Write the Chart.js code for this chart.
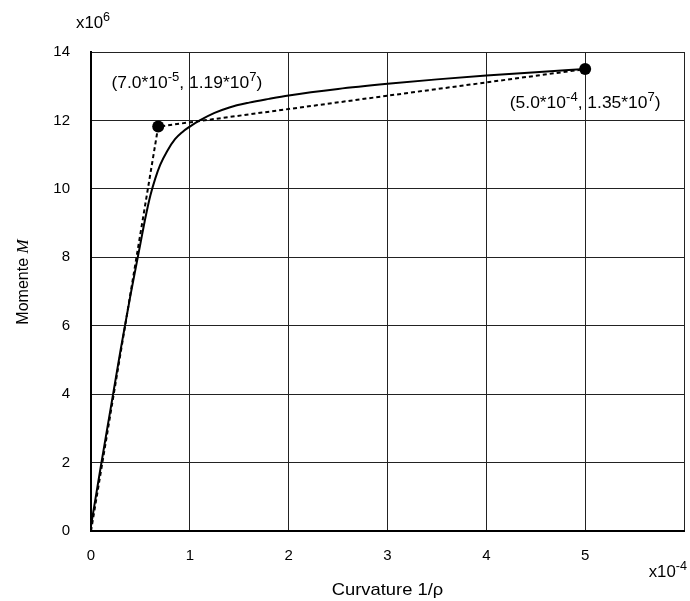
<!DOCTYPE html>
<html lang="en">
<head>
    <meta charset="UTF-8">
    <title>Moment - Curvature</title>
    <style>
        body { margin: 0; background: #fff; }
        #wrap { position: relative; width: 690px; height: 601px; }
    </style>
</head>
<body>
    <div id="wrap"><canvas id="myChart"></canvas></div>

    <script src="https://cdn.jsdelivr.net/npm/chart.js"></script>

    <script>
        // curvature in 1e-4, moment in 1e6
        const curveX = [0, 0.1, 0.2, 0.3, 0.4, 0.5, 0.55, 0.6, 0.65, 0.7, 0.77, 0.85, 0.92, 1.0, 1.1, 1.25, 1.4, 1.6, 1.8, 2.0, 2.5, 3.0, 3.5, 4.0, 4.5, 5.0]
        const curveY = [0.15, 1.9, 3.6, 5.3, 6.9, 8.4, 9.15, 9.8, 10.3, 10.7, 11.1, 11.45, 11.65, 11.82, 12.0, 12.22, 12.38, 12.52, 12.63, 12.73, 12.92, 13.07, 13.2, 13.31, 13.41, 13.5]
        const bilinX = [0, 0.68, 5.0]
        const bilinY = [0, 11.82, 13.5]
        const xTicks = [0, 1, 2, 3, 4, 5]
        const yTicks = [0, 2, 4, 6, 8, 10, 12, 14]

        const FONT = '"Liberation Sans", Arial, sans-serif'

        // text with superscripts: parts = [[text, isSup], ...], stretched a bit horizontally
        function supText(ctx, parts, x, y, size, align, stretch) {
            stretch = stretch || 1
            const sup = Math.round(size * 0.72)
            let w = 0
            parts.forEach(p => {
                ctx.font = (p[1] ? sup : size) + 'px ' + FONT
                w += ctx.measureText(p[0]).width
            })
            w *= stretch
            let cx = align === 'center' ? x - w / 2 : (align === 'right' ? x - w : x)
            ctx.save()
            ctx.translate(cx, y)
            ctx.scale(stretch, 1)
            ctx.textAlign = 'left'
            ctx.textBaseline = 'alphabetic'
            let px = 0
            parts.forEach(p => {
                ctx.font = (p[1] ? sup : size) + 'px ' + FONT
                ctx.fillText(p[0], px, p[1] ? -size * 0.45 : 0)
                px += ctx.measureText(p[0]).width
            })
            ctx.restore()
        }

        const textPlugin = {
            id: 'extraText',
            afterDraw(chart) {
                const ctx = chart.ctx
                const xs = chart.scales.x, ys = chart.scales.y
                const area = chart.chartArea
                ctx.save()
                ctx.fillStyle = '#000'

                // multipliers
                supText(ctx, [['x10', false], ['6', true]], 76, 28, 16, 'left', 1.05)
                supText(ctx, [['x10', false], ['-4', true]], area.right + 3, 577, 16, 'right', 1.05)

                // point labels
                supText(ctx, [['(7.0*10', false], ['-5', true], [', 1.19*10', false], ['7', true], [')', false]],
                    xs.getPixelForValue(0.97), ys.getPixelForValue(12.95), 16, 'center', 1.09)
                supText(ctx, [['(5.0*10', false], ['-4', true], [', 1.35*10', false], ['7', true], [')', false]],
                    xs.getPixelForValue(5.0), ys.getPixelForValue(12.37), 16, 'center', 1.09)

                // axis titles
                ctx.save()
                ctx.translate((area.left + area.right) / 2, 595)
                ctx.scale(1.08, 1)
                ctx.font = '17px ' + FONT
                ctx.textAlign = 'center'
                ctx.textBaseline = 'alphabetic'
                ctx.fillText('Curvature 1/\u03c1', 0, 0)
                ctx.restore()

                ctx.translate(28, 282)
                ctx.rotate(-Math.PI / 2)
                ctx.font = '16px ' + FONT
                const w1 = ctx.measureText('Momente ').width
                ctx.font = 'italic 17px "Liberation Serif", "Times New Roman", serif'
                const w2 = ctx.measureText('M').width
                let sx = -(w1 + w2) / 2
                ctx.textAlign = 'left'
                ctx.font = '16px ' + FONT
                ctx.fillText('Momente ', sx, 0)
                ctx.font = 'italic 17px "Liberation Serif", "Times New Roman", serif'
                ctx.fillText('M', sx + w1, 0)
                ctx.restore()
            }
        }

        const ctx = document.getElementById('myChart')
        const myChart = new Chart(ctx, {
            type: 'scatter',
            data: {
                datasets: [{
                    label: 'M-phi',
                    data: curveX.map((x, i) => ({ x: x, y: curveY[i] })),
                    showLine: true,
                    borderColor: '#000',
                    borderWidth: 2,
                    pointRadius: 0,
                    cubicInterpolationMode: 'monotone'
                }, {
                    label: 'bilinear',
                    data: bilinX.map((x, i) => ({ x: x, y: bilinY[i] })),
                    showLine: true,
                    borderColor: '#000',
                    borderWidth: 2,
                    borderDash: [4, 3],
                    pointRadius: [0, 6, 6],
                    pointBackgroundColor: '#000',
                    pointBorderColor: '#000',
                    pointBorderWidth: 0
                }]
            },
            options: {
                responsive: true,
                maintainAspectRatio: false,
                animation: false,
                events: [],
                layout: { padding: { top: 52, right: 5, left: 0, bottom: 0 } },
                plugins: { legend: { display: false }, tooltip: { enabled: false } },
                scales: {
                    x: {
                        type: 'linear',
                        min: 0, max: 6,
                        afterFit: s => { s.height = 70; s.paddingRight = 0; s.paddingLeft = 0 },
                        afterBuildTicks: s => { s.ticks = xTicks.concat([6]).map(v => ({ value: v })) },
                        ticks: {
                            callback: v => xTicks.includes(v) ? String(v) : '',
                            color: '#000',
                            font: { family: FONT, size: 15 },
                            padding: 16,
                            maxRotation: 0
                        },
                        grid: { color: '#222', lineWidth: 1, drawTicks: false },
                        border: { color: '#000', width: 2 }
                    },
                    y: {
                        min: 0, max: 14,
                        afterFit: s => { s.width = 91; s.paddingTop = 0; s.paddingBottom = 0 },
                        afterBuildTicks: s => { s.ticks = yTicks.map(v => ({ value: v })) },
                        ticks: {
                            color: '#000',
                            font: { family: FONT, size: 15 },
                            padding: 21
                        },
                        grid: { color: '#222', lineWidth: 1, drawTicks: false },
                        border: { color: '#000', width: 2 }
                    }
                }
            },
            plugins: [textPlugin]
        })
    </script>
</body>
</html>
